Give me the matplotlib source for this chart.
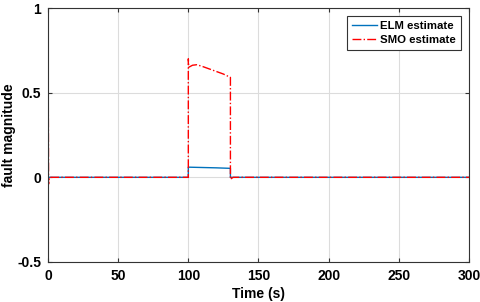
import matplotlib
matplotlib.use("Agg")
import matplotlib.pyplot as plt

plt.rcParams['font.family'] = ['Liberation Sans', 'DejaVu Sans']
plt.rcParams['font.weight'] = 'bold'

# ELM estimate
t_elm = [0, 100, 100, 110, 120, 130, 130, 300]
elm = [0, 0, 0.060, 0.058, 0.056, 0.053, 0, 0]

# SMO estimate
t_smo = [0, 0, 0.4, 0.8, 100, 100, 100.3, 103, 106, 110, 115, 120, 125, 130, 130, 131, 132, 300]
smo = [0, 1.0, -0.04, 0, 0, 0.70, 0.65, 0.662, 0.665, 0.655, 0.64, 0.625, 0.61, 0.59, -0.012, -0.005, 0, 0]

fig = plt.figure(figsize=(4.8, 3.02), dpi=100)
ax = fig.add_axes([0.1, 0.1325, 0.877, 0.841])

ax.plot(t_elm, elm, color='#0072BD', linewidth=1.0, label='ELM estimate')
ax.plot(t_smo, smo, color='red', linestyle='-.', linewidth=1.0, label='SMO estimate')

ax.set_xlim(0, 300)
ax.set_ylim(-0.5, 1)
ax.set_xticks([0, 50, 100, 150, 200, 250, 300])
ax.set_yticks([-0.5, 0, 0.5, 1])
ax.set_yticklabels(['-0.5', '0', '0.5', '1'])
ax.grid(True, color='#dcdcdc', linewidth=0.8)
ax.set_axisbelow(True)
ax.tick_params(direction='in', top=True, right=True, labelsize=10, length=3,
               color='#333333', pad=5)
for s in ax.spines.values():
    s.set_color('#333333')
    s.set_linewidth(0.8)

ax.set_xlabel('Time (s)', fontsize=10, fontweight='bold', labelpad=3)
ax.set_ylabel('fault magnitude', fontsize=10, fontweight='bold', labelpad=1)

leg = ax.legend(loc='upper right', fontsize=8.2, fancybox=False, framealpha=1,
                edgecolor='#333333', borderaxespad=0.7, handlelength=2.2,
                borderpad=0.45, labelspacing=0.35, handletextpad=0.3)
leg.get_frame().set_linewidth(0.8)

fig.savefig('out.png', dpi=100)
